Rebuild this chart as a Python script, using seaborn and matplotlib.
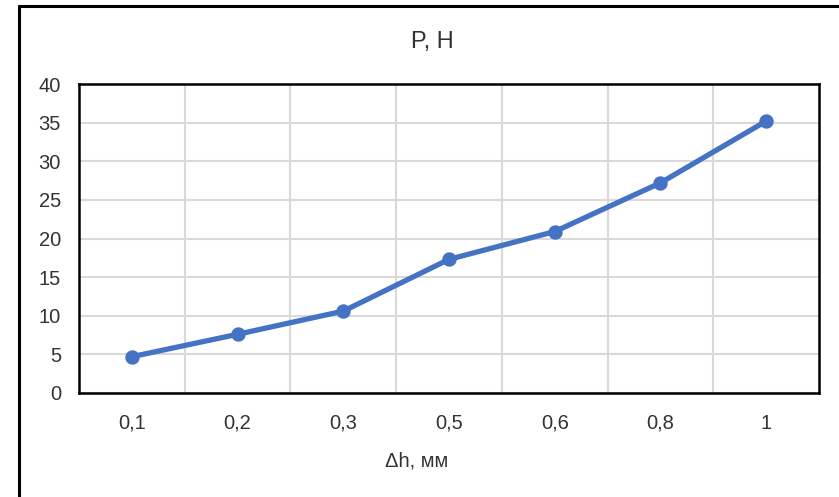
import matplotlib
matplotlib.use("Agg")
import matplotlib.pyplot as plt
from matplotlib.ticker import FixedLocator, MultipleLocator
from matplotlib.lines import Line2D
import seaborn as sns
import pandas as pd

categories = ["0,1", "0,2", "0,3", "0,5", "0,6", "0,8", "1"]
values = [4.7, 7.6, 10.6, 17.3, 20.9, 27.2, 35.2]
title = "P, Н"
xlabel = "Δh, мм"

sns.set_theme(style="white")
plt.rcParams['font.family'] = ['Liberation Sans Narrow', 'Liberation Sans', 'DejaVu Sans']

df = pd.DataFrame({"dh": categories, "P": values})

W, H = 839, 497
fig = plt.figure(figsize=(W / 100, H / 100), dpi=100)
ax = fig.add_axes([79 / W, 1 - 393 / H, (819 - 79) / W, (393 - 84) / H])

sns.pointplot(data=df, x="dh", y="P", ax=ax, color="#4472C4",
              markers="o", markersize=7.5, linewidth=3.8, zorder=3)

ax.set_xlim(-0.5, len(categories) - 0.5)
ax.set_ylim(0, 40)
ax.yaxis.set_major_locator(MultipleLocator(5))
ax.xaxis.set_minor_locator(FixedLocator([i + 0.5 for i in range(len(categories) - 1)]))
ax.grid(True, which="major", axis="y", color="#d9d9d9", linewidth=1.5)
ax.grid(True, which="minor", axis="x", color="#d9d9d9", linewidth=1.5)
ax.grid(False, which="major", axis="x")
ax.set_axisbelow(True)
for s in ax.spines.values():
    s.set_visible(True)
    s.set_color("black")
    s.set_linewidth(1.8)

ax.tick_params(axis="both", which="both", length=0, labelsize=14.5, colors="#333333")
ax.tick_params(axis="y", pad=13)
ax.tick_params(axis="x", pad=15)
ax.set_xlabel("")
ax.set_ylabel("")

fig.text(432 / W, 1 - 42 / H, title, ha="center", va="center", fontsize=17, color="#333333")
fig.text(417 / W, 1 - 461 / H, xlabel, ha="center", va="center", fontsize=14.5, color="#333333")

# outer chart border (left and top)
fig.add_artist(Line2D([19 / W, 19 / W], [0, 1 - 6 / H], color="black", linewidth=2.2, transform=fig.transFigure))
fig.add_artist(Line2D([19 / W, 1], [1 - 6 / H, 1 - 6 / H], color="black", linewidth=2.2, transform=fig.transFigure))

fig.savefig("out.png", dpi=100, facecolor="white")
